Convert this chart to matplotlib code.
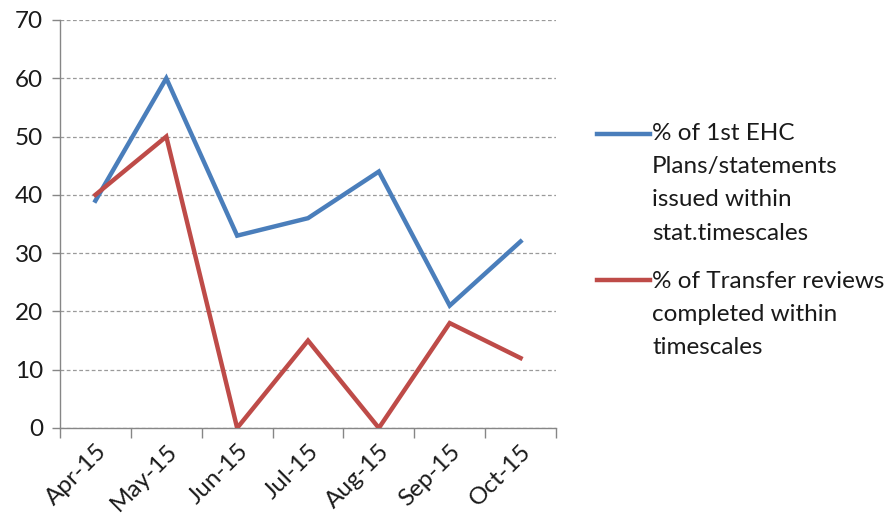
import matplotlib.pyplot as plt
from matplotlib.lines import Line2D

months = ["Apr-15", "May-15", "Jun-15", "Jul-15", "Aug-15", "Sep-15", "Oct-15"]
ehc_plans = [39, 60, 33, 36, 44, 21, 32]
transfer_reviews = [40, 50, 0, 15, 0, 18, 12]

ehc_label = "% of 1st EHC\nPlans/statements\nissued within\nstat.timescales"
transfer_label = "% of Transfer reviews\ncompleted within\ntimescales"

blue = "#4A7EBB"
red = "#BE4B48"
axis_grey = "#868686"
text_col = "#1a1a1a"
fs = 17.5

plt.rcParams["font.family"] = ["Lato", "DejaVu Sans"]

fig = plt.figure(figsize=(8.88, 5.17), dpi=100)
ax = fig.add_axes([60 / 888, 1 - 428 / 517, 496 / 888, 408 / 517])

x = list(range(len(months)))
ax.plot(x, ehc_plans, color=blue, linewidth=3.2, solid_joinstyle="miter", zorder=3)
ax.plot(x, transfer_reviews, color=red, linewidth=3.2, solid_joinstyle="miter", zorder=3)

ax.set_xlim(-0.5, len(months) - 0.5)
ax.set_ylim(0, 70)
ax.set_yticks(range(0, 71, 10))
ax.grid(axis="y", color="#9a9a9a", linestyle=(0, (3, 2)), linewidth=0.9)
ax.set_axisbelow(True)

# category labels at centres, tick marks on category boundaries
ax.set_xticks(x)
ax.set_xticklabels(months, rotation=45, ha="right", va="top",
                   rotation_mode="anchor", fontsize=fs, color=text_col)
ax.set_xticks([i - 0.5 for i in range(len(months) + 1)], minor=True)
ax.tick_params(axis="x", which="major", length=0, pad=9)
ax.tick_params(axis="x", which="minor", length=7, color=axis_grey, width=1)
ax.tick_params(axis="y", length=6, color=axis_grey, width=1, labelsize=fs,
               labelcolor=text_col, pad=6)

for side in ["top", "right"]:
    ax.spines[side].set_visible(False)
for side in ["left", "bottom"]:
    ax.spines[side].set_color(axis_grey)
    ax.spines[side].set_linewidth(1)

# legend drawn by hand so the key sits beside the first text line
fig.add_artist(Line2D([597 / 888, 650 / 888], [1 - 134 / 517] * 2,
                      color=blue, linewidth=3.2, transform=fig.transFigure))
fig.text(652 / 888, 1 - 123 / 517, ehc_label, fontsize=fs, va="top",
         ha="left", linespacing=1.72, color=text_col)
fig.add_artist(Line2D([597 / 888, 650 / 888], [1 - 280 / 517] * 2,
                      color=red, linewidth=3.2, transform=fig.transFigure))
fig.text(652 / 888, 1 - 271 / 517, transfer_label, fontsize=fs, va="top",
         ha="left", linespacing=1.72, color=text_col)

fig.savefig("out.png", dpi=100)
plt.close(fig)
